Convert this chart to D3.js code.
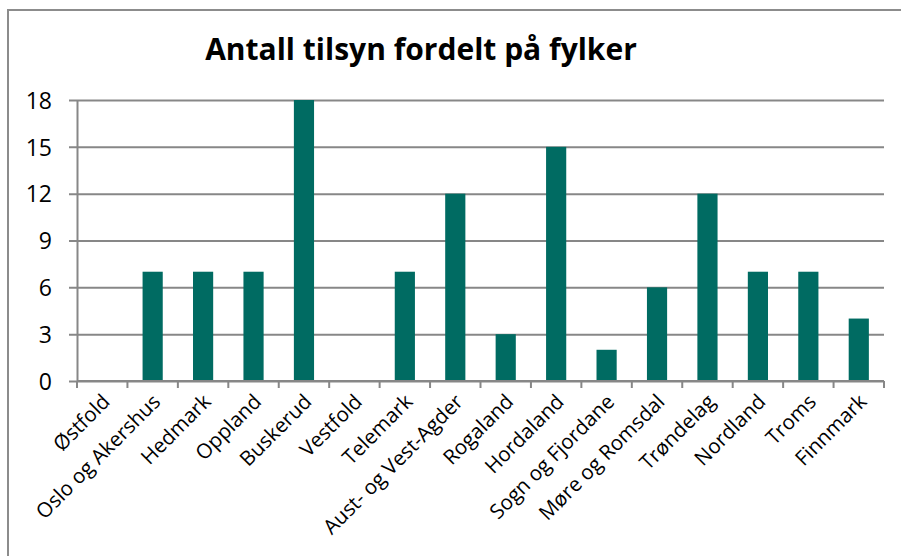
<!DOCTYPE html>
<html>
<head>
<meta charset="utf-8">
<script src="https://cdn.jsdelivr.net/npm/d3@7"></script>
<style>
  body { margin: 0; background: #fff; }
  svg { display: block; }
</style>
</head>
<body>
<div id="chart"></div>
<script>
// data
const fylker = ["Østfold", "Oslo og Akershus", "Hedmark", "Oppland", "Buskerud", "Vestfold",
  "Telemark", "Aust- og Vest-Agder", "Rogaland", "Hordaland", "Sogn og Fjordane",
  "Møre og Romsdal", "Trøndelag", "Nordland", "Troms", "Finnmark"];
const tilsyn = [0, 7, 7, 7, 18, 0, 7, 12, 3, 15, 2, 6, 12, 7, 7, 4];
const yTicks = [0, 3, 6, 9, 12, 15, 18];
const title = "Antall tilsyn fordelt på fylker";

let w = 901, h = 556;
let padL = 77, padR = 884, padT = 100, padB = 381;
let barColor = "#006b62";
let gridColor = "#878787";
let font = "'Open Sans', sans-serif";

let svg = d3.select("#chart").append("svg")
  .attr("width", w)
  .attr("height", h);

//outer frame
svg.append("rect")
  .attr("x", 8).attr("y", 10)
  .attr("width", w + 20).attr("height", h + 20)
  .attr("fill", "none")
  .attr("stroke", "#8c8c8c")
  .attr("stroke-width", 2);

let xScale = d3.scaleBand()
  .domain(fylker)
  .range([padL, padR])
  .paddingInner(0.6)
  .paddingOuter(0.3);

let yScale = d3.scaleLinear()
  .domain([0, 18])
  .range([padB, padT]);

//gridlines + y axis
let yAxis = d3.axisLeft(yScale)
  .tickValues(yTicks)
  .tickSizeInner(-(padR - padL))
  .tickSizeOuter(0);

let gy = svg.append("g")
  .attr("transform", `translate(${padL},0)`)
  .call(yAxis);
gy.select(".domain").attr("stroke", gridColor).attr("stroke-width", 2);
gy.selectAll(".tick line").attr("stroke", gridColor).attr("stroke-width", 2)
  .attr("x1", -8);
gy.selectAll(".tick text")
  .attr("x", -25)
  .attr("dy", "0.36em")
  .attr("fill", "#000")
  .style("font-family", font)
  .style("font-size", "23px");

//bars
svg.append("g").selectAll("rect")
  .data(tilsyn)
  .enter()
  .append("rect")
  .attr("x", (d, i) => xScale(fylker[i]))
  .attr("y", d => yScale(d))
  .attr("width", xScale.bandwidth())
  .attr("height", d => yScale(0) - yScale(d))
  .attr("fill", barColor);

//x axis with ticks between categories
let tickPos = d3.range(fylker.length + 1).map(i => padL + i * (padR - padL) / fylker.length);
let gx = svg.append("g");
gx.append("line")
  .attr("x1", padL).attr("x2", padR)
  .attr("y1", padB).attr("y2", padB)
  .attr("stroke", gridColor).attr("stroke-width", 2);
gx.selectAll(".xt")
  .data(tickPos)
  .enter()
  .append("line")
  .attr("x1", d => d).attr("x2", d => d)
  .attr("y1", padB).attr("y2", padB + 7)
  .attr("stroke", gridColor).attr("stroke-width", 2);

gx.selectAll(".lbl")
  .data(fylker)
  .enter()
  .append("text")
  .attr("transform", d => `translate(${xScale(d) + xScale.bandwidth() / 2 + 9},${padB + 22}) rotate(-45)`)
  .attr("text-anchor", "end")
  .style("font-family", font)
  .style("font-size", "20.5px")
  .attr("fill", "#000")
  .text(d => d);

//title
svg.append("text")
  .attr("x", 421)
  .attr("y", 60)
  .attr("text-anchor", "middle")
  .style("font-family", font)
  .style("font-weight", "bold")
  .style("font-size", "30px")
  .text(title);
</script>
</body>
</html>
